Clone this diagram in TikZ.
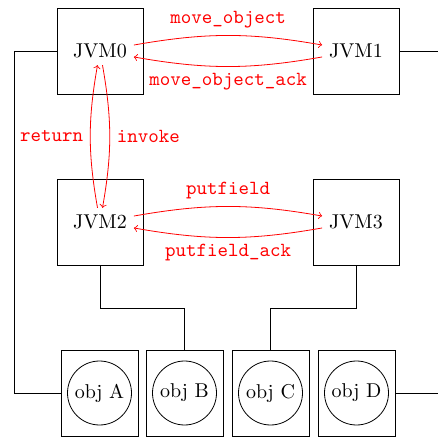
\documentclass[tikz,border=0pt]{standalone}
\begin{document}
\begin{tikzpicture}[x=0.5pt,y=-0.5pt,
  box/.style={draw,minimum size=43pt,inner sep=0pt},
  jvm/.style={inner sep=3.33pt},
  objbox/.style={draw,minimum width=38.5pt,minimum height=43pt,inner sep=0pt},
  objc/.style={draw,circle,minimum size=32pt,inner sep=0pt},
  msg/.style={red,->,bend left=10},
  lbl/.style={red,font=\ttfamily}]
\useasboundingbox (0,0) rectangle (438,437);
% JVM boxes
\node[box] (b0) at (100,51) {};
\node[jvm] (j0) at (100,51) {JVM0};
\node[box] (b1) at (356,51) {};
\node[jvm] (j1) at (356,51) {JVM1};
\node[box] (b2) at (100,222) {};
\node[jvm] (j2) at (100,222) {JVM2};
\node[box] (b3) at (356,222) {};
\node[jvm] (j3) at (356,222) {JVM3};
% objects
\node[objbox] (oA) at (99.5,393) {};
\node[objc] (cA) at (99.5,393) {obj A};
\node[objbox] (oB) at (184.5,393) {};
\node[objc] (cB) at (184.5,393) {obj B};
\node[objbox] (oC) at (270.5,393) {};
\node[objc] (cC) at (270.5,393) {obj C};
\node[objbox] (oD) at (356.5,393) {};
\node[objc] (cD) at (356.5,393) {obj D};
% helper coordinates
\coordinate (lx) at (14,0);
\coordinate (rx) at (438,0);
% black connectors
\draw (b0.west) -- (b0.west -| lx) |- (oA.west);
\draw (b1.east) -- (b1.east -| rx);
\draw (oD.east) -- (oD.east -| rx);
\draw (b2.south) -- ++(0,43) -| (oB.north);
\draw (b3.south) -- ++(0,43) -| (oC.north);
% red messages
\draw[msg] (j0) to node[lbl,above] {move\_object} (j1);
\draw[msg] (j1) to node[lbl,below] {move\_object\_ack} (j0);
\draw[msg] (j0) to node[lbl,right] {invoke} (j2);
\draw[msg] (j2) to node[lbl,left] {return} (j0);
\draw[msg] (j2) to node[lbl,above] {putfield} (j3);
\draw[msg] (j3) to node[lbl,below] {putfield\_ack} (j2);
\end{tikzpicture}
\end{document}
